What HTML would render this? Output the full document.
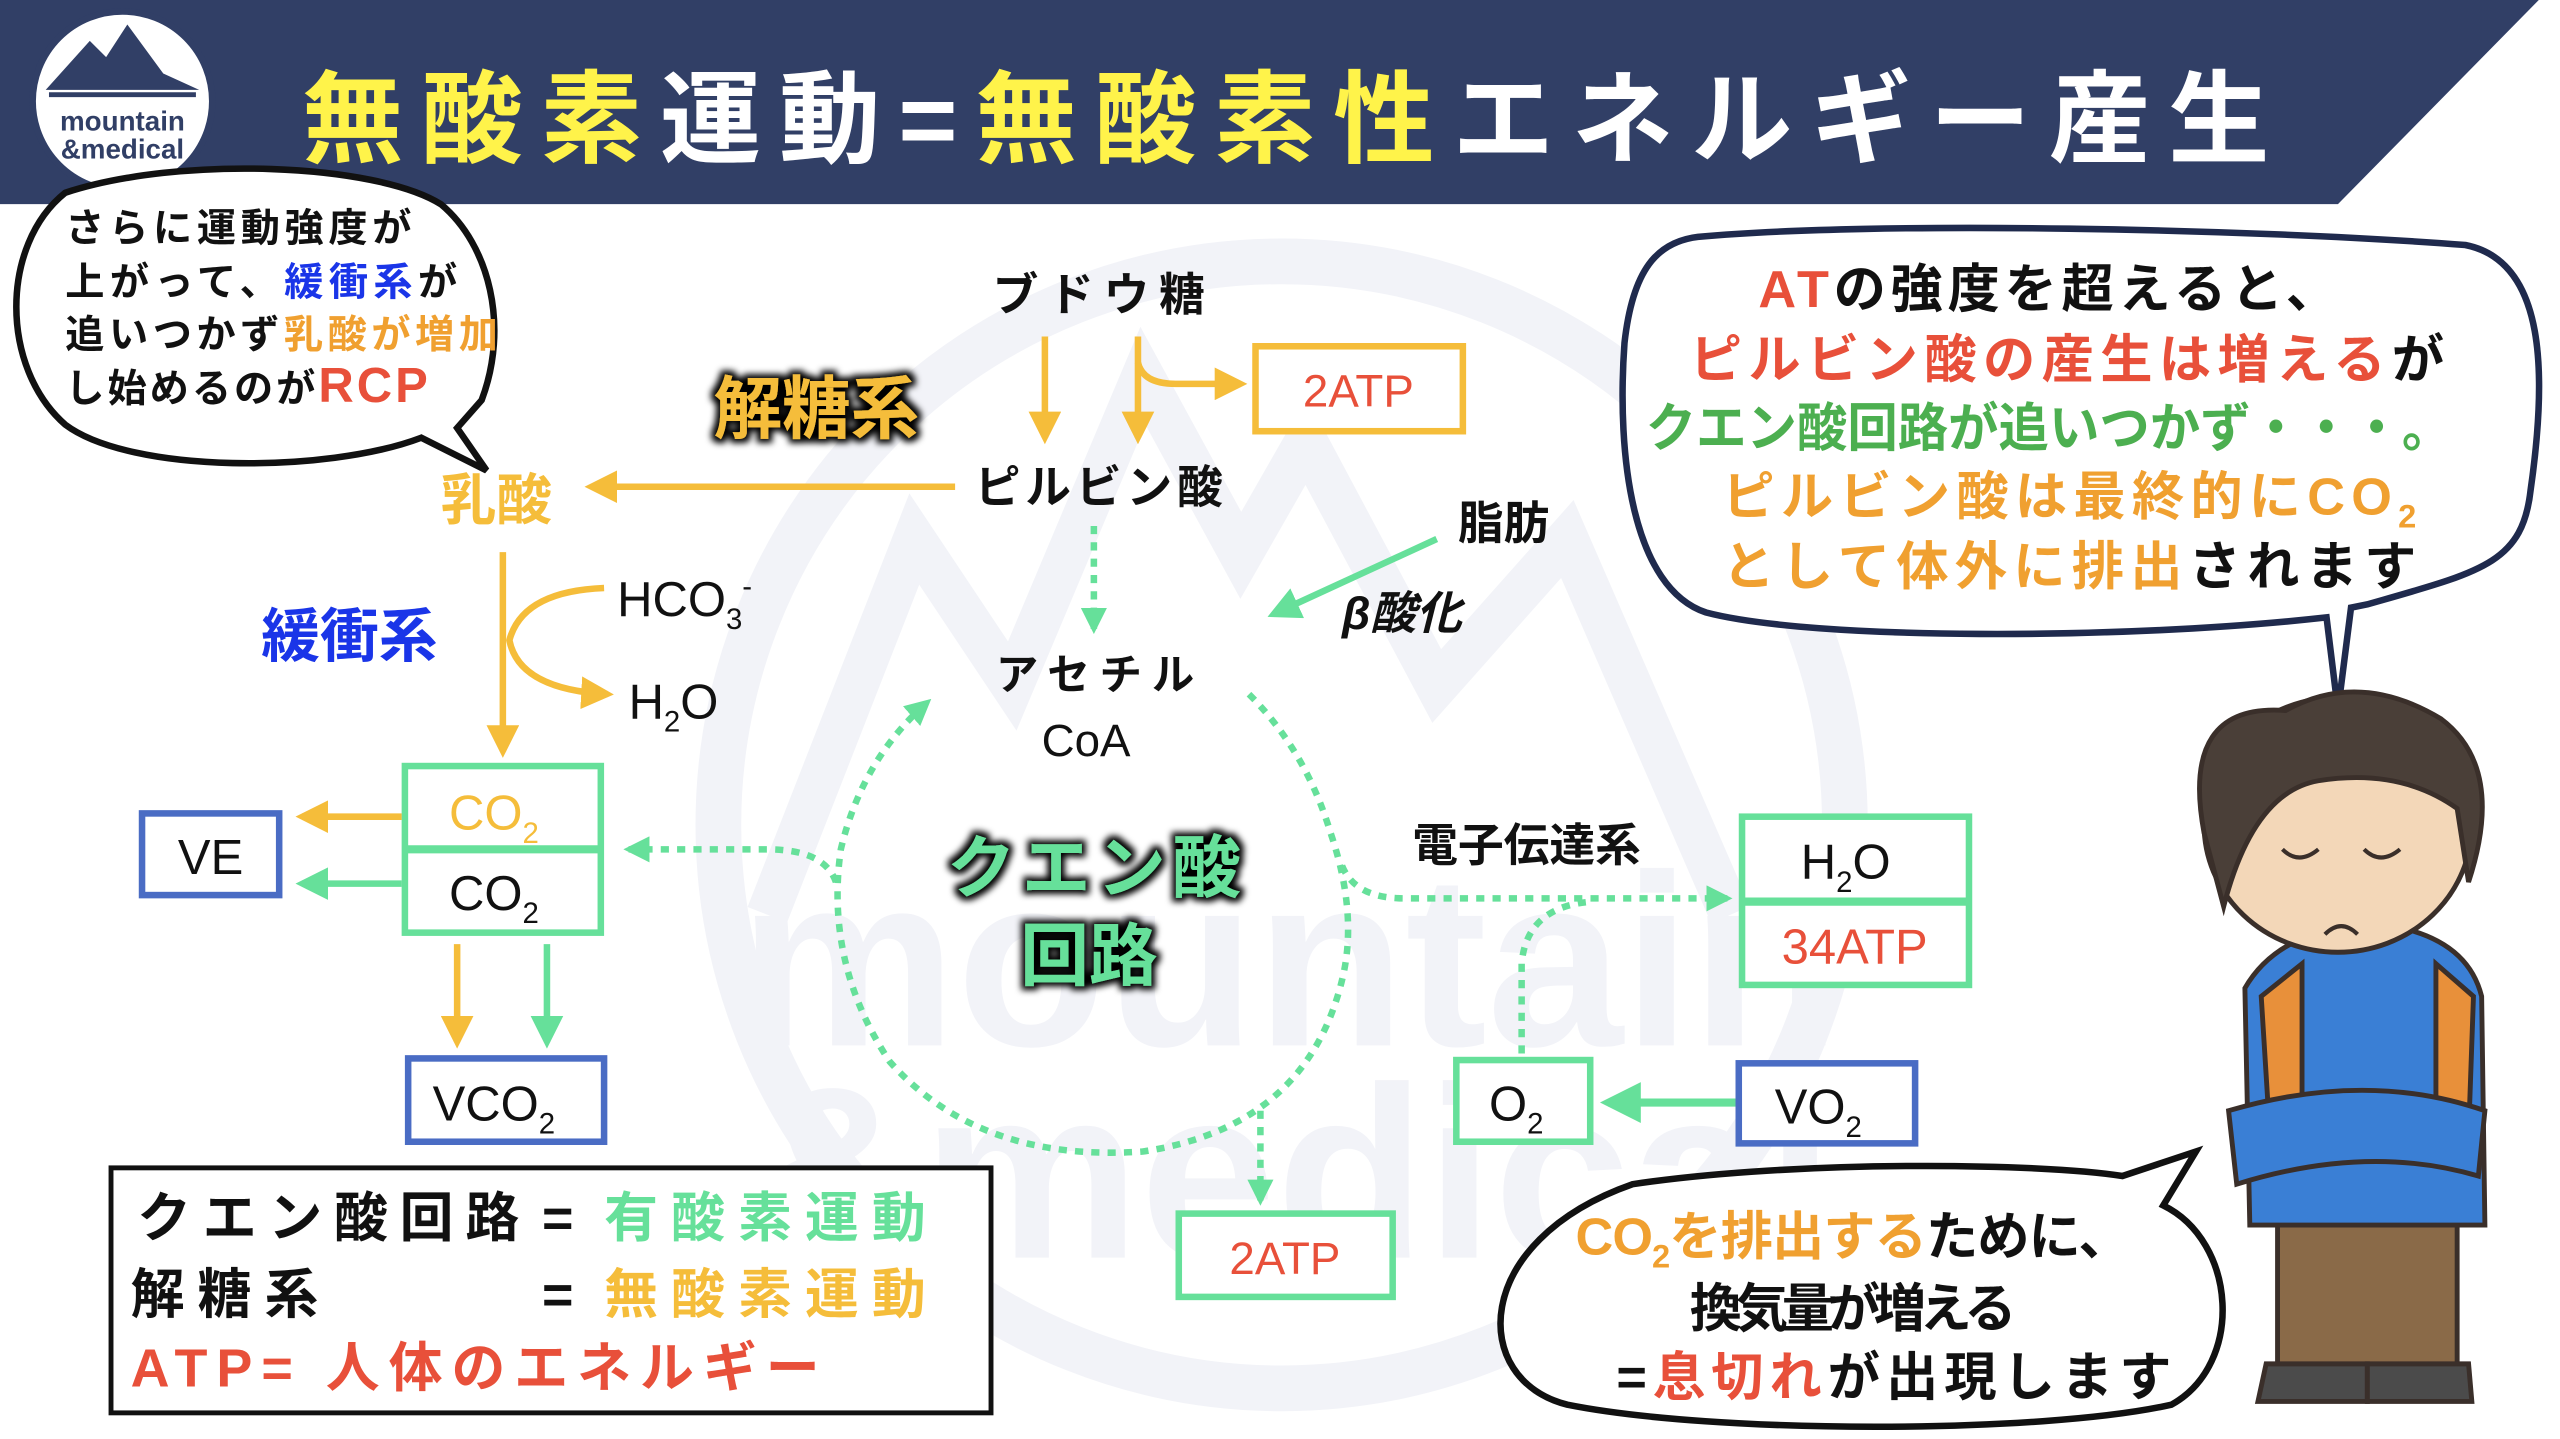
<!DOCTYPE html>
<html><head><meta charset="utf-8"><style>
html,body{margin:0;padding:0;background:#fff;}
svg{display:block;}
text{font-family:"Liberation Sans","Noto Sans CJK JP",sans-serif;}
</style></head><body>
<svg width="2560" height="1439" viewBox="0 0 1568 881" preserveAspectRatio="none" xmlns="http://www.w3.org/2000/svg">
<defs>
<marker id="mo" viewBox="0 0 10 10" refX="8" refY="5" markerWidth="5" markerHeight="5" orient="auto"><path d="M0,0L10,5L0,10z" fill="#f5bd3a"/></marker>
<marker id="mg" viewBox="0 0 10 10" refX="8" refY="5" markerWidth="5" markerHeight="5" orient="auto"><path d="M0,0L10,5L0,10z" fill="#66e09a"/></marker>
<marker id="mg2" viewBox="0 0 10 10" refX="8" refY="5" markerWidth="4" markerHeight="4" orient="auto"><path d="M0,0L10,5L0,10z" fill="#66e09a"/></marker>
<filter id="glow" x="-20%" y="-20%" width="140%" height="140%"><feMorphology operator="dilate" radius="2.5" in="SourceAlpha" result="d"/><feGaussianBlur in="d" stdDeviation="2" result="b"/><feFlood flood-color="#000"/><feComposite in2="b" operator="in" result="s"/><feMerge><feMergeNode in="s"/><feMergeNode in="SourceGraphic"/></feMerge></filter>
</defs>
<rect width="1568" height="881" fill="#fff"/>
<g>
<circle cx="785" cy="505" r="345" fill="none" stroke="#f2f3f8" stroke-width="28"/>
<path d="M470,560 L560,330 L620,420 L700,230 L760,340 L800,270 L880,420 L960,330 L1060,560" fill="none" stroke="#f2f3f8" stroke-width="26"/>
<text x="790" y="640" font-size="150" font-weight="bold" fill="#f2f3f8" text-anchor="middle">mountain</text>
<text x="790" y="770" font-size="150" font-weight="bold" fill="#f2f3f8" text-anchor="middle">&amp;medical</text>
</g>
<polygon points="0,0 1555,0 1432,125 0,125" fill="#313f66"/>
<circle cx="75" cy="62" r="55" fill="#fff" stroke="#313f66" stroke-width="4"/>
<path d="M28,55 L55,25 L65,35 L78,15 L100,45 L122,55 Z" fill="#313f66"/>
<path d="M30,58 L120,58" stroke="#313f66" stroke-width="3"/>
<text x="75" y="80" font-size="17" font-weight="bold" fill="#313f66" text-anchor="middle">mountain</text>
<text x="75" y="97" font-size="17" font-weight="bold" fill="#313f66" text-anchor="middle">&amp;medical</text>
<text x="185" y="95" font-size="62" font-weight="bold" textLength="1205" lengthAdjust="spacing"><tspan fill="#fff34a">無酸素</tspan><tspan fill="#fff">運動</tspan><tspan fill="#fff">=</tspan><tspan fill="#fff34a">無酸素性</tspan><tspan fill="#fff">エネルギー産生</tspan></text>
<path d="M40,118 C110,95 230,100 270,125 C300,150 312,200 295,245 L280,262 L298,288 L258,268 C200,290 80,290 40,260 C0,225 0,150 40,118 Z" fill="#fff" stroke="#111" stroke-width="4"/>
<g font-size="24" font-weight="bold" fill="#111">
<text x="40" y="148" textLength="212" lengthAdjust="spacing">さらに運動強度が</text>
<text x="40" y="181" textLength="240" lengthAdjust="spacing">上がって、<tspan fill="#1a35e8">緩衝系</tspan>が</text>
<text x="40" y="213" textLength="265" lengthAdjust="spacing">追いつかず<tspan fill="#f0a030">乳酸が増加</tspan></text>
<text x="40" y="246" textLength="222" lengthAdjust="spacing">し始めるのが<tspan fill="#e8503a" font-size="30">RCP</tspan></text>
</g>
<text x="608" y="190" font-size="28" font-weight="bold" fill="#111" letter-spacing="6">ブドウ糖</text>
<line x1="640" y1="206" x2="640" y2="268" stroke="#f5bd3a" stroke-width="4" marker-end="url(#mo)"/>
<line x1="697" y1="206" x2="697" y2="268" stroke="#f5bd3a" stroke-width="4" marker-end="url(#mo)"/>
<path d="M697,222 Q700,235 720,235 L760,235" fill="none" stroke="#f5bd3a" stroke-width="4" marker-end="url(#mo)"/>
<rect x="769" y="212" width="127" height="52" fill="#fff" stroke="#f5bd3a" stroke-width="4"/>
<text x="832" y="249" font-size="28" fill="#e8503a" text-anchor="middle">2ATP</text>
<text x="437" y="265" font-size="42" font-weight="bold" fill="#f5bd3a" filter="url(#glow)">解糖系</text>
<text x="597" y="308" font-size="28" font-weight="bold" fill="#111" letter-spacing="3">ピルビン酸</text>
<line x1="585" y1="298" x2="362" y2="298" stroke="#f5bd3a" stroke-width="4" marker-end="url(#mo)"/>
<text x="270" y="318" font-size="34" font-weight="bold" fill="#f5bd3a">乳酸</text>
<line x1="308" y1="338" x2="308" y2="460" stroke="#f5bd3a" stroke-width="4" marker-end="url(#mo)"/>
<path d="M370,360 Q320,362 312,392 Q318,422 372,425" fill="none" stroke="#f5bd3a" stroke-width="4" marker-end="url(#mo)"/>
<text x="378" y="377" font-size="30" fill="#111">HCO<tspan font-size="18" dy="8">3</tspan><tspan font-size="18" dy="-20">-</tspan></text>
<text x="385" y="440" font-size="30" fill="#111">H<tspan font-size="18" dy="8">2</tspan><tspan dy="-8">O</tspan></text>
<text x="160" y="402" font-size="36" font-weight="bold" fill="#1a35e8">緩衝系</text>
<rect x="248" y="469" width="120" height="102" fill="#fff" stroke="#66e09a" stroke-width="4"/>
<line x1="248" y1="520" x2="368" y2="520" stroke="#66e09a" stroke-width="5"/>
<text x="275" y="508" font-size="30" fill="#f5bd3a">CO<tspan font-size="18" dy="8">2</tspan></text>
<text x="275" y="557" font-size="30" fill="#111">CO<tspan font-size="18" dy="8">2</tspan></text>
<line x1="246" y1="500" x2="185" y2="500" stroke="#f5bd3a" stroke-width="4" marker-end="url(#mo)"/>
<line x1="246" y1="541" x2="185" y2="541" stroke="#66e09a" stroke-width="4" marker-end="url(#mg)"/>
<rect x="87" y="498" width="84" height="50" fill="#fff" stroke="#4a6cc4" stroke-width="4"/>
<text x="129" y="535" font-size="30" fill="#111" text-anchor="middle">VE</text>
<line x1="280" y1="578" x2="280" y2="638" stroke="#f5bd3a" stroke-width="4" marker-end="url(#mo)"/>
<line x1="335" y1="578" x2="335" y2="638" stroke="#66e09a" stroke-width="4" marker-end="url(#mg)"/>
<rect x="250" y="648" width="120" height="51" fill="#fff" stroke="#4a6cc4" stroke-width="4"/>
<text x="265" y="686" font-size="30" fill="#111">VCO<tspan font-size="18" dy="8">2</tspan></text>
<rect x="68" y="715" width="539" height="150" fill="#fff" stroke="#111" stroke-width="3"/>
<g font-size="33" font-weight="bold">
<text x="84" y="757" fill="#111" textLength="234" lengthAdjust="spacing">クエン酸回路</text>
<text x="332" y="757" fill="#111">=</text>
<text x="370" y="757" fill="#66e09a" textLength="197" lengthAdjust="spacing">有酸素運動</text>
<text x="80" y="804" fill="#111" textLength="115" lengthAdjust="spacing">解糖系</text>
<text x="332" y="804" fill="#111">=</text>
<text x="370" y="804" fill="#f5bd3a" textLength="197" lengthAdjust="spacing">無酸素運動</text>
<text x="80" y="849" fill="#e8503a" textLength="422" lengthAdjust="spacing">ATP= 人体のエネルギー</text>
</g>
<line x1="670" y1="322" x2="670" y2="385" stroke="#66e09a" stroke-width="4" stroke-dasharray="5 5" marker-end="url(#mg2)"/>
<text x="893" y="330" font-size="28" font-weight="bold" fill="#111">脂肪</text>
<line x1="880" y1="330" x2="780" y2="376" stroke="#66e09a" stroke-width="4" marker-end="url(#mg)"/>
<text x="822" y="385" font-size="28" font-weight="bold" font-style="italic" fill="#111">β酸化</text>
<text x="610" y="422" font-size="26" font-weight="bold" fill="#111" letter-spacing="6">アセチル</text>
<text x="638" y="463" font-size="28" fill="#111">CoA</text>
<path d="M765,425 Q800,460 815,510 Q832,560 822,600 Q800,690 700,705 Q600,712 545,650 Q505,590 515,520 Q528,465 568,430" fill="none" stroke="#66e09a" stroke-width="4" stroke-dasharray="5 5" marker-end="url(#mg2)"/>
<path d="M512,540 Q505,520 470,520 L385,520" fill="none" stroke="#66e09a" stroke-width="4" stroke-dasharray="5 5" marker-end="url(#mg2)"/>
<path d="M772,680 L772,735" fill="none" stroke="#66e09a" stroke-width="4" stroke-dasharray="5 5" marker-end="url(#mg2)"/>
<rect x="722" y="743" width="131" height="51" fill="#fff" stroke="#66e09a" stroke-width="4"/>
<text x="787" y="780" font-size="28" fill="#e8503a" text-anchor="middle">2ATP</text>
<text x="580" y="546" font-size="42" font-weight="bold" fill="#66e09a" filter="url(#glow)" letter-spacing="4">クエン酸</text>
<text x="625" y="600" font-size="42" font-weight="bold" fill="#66e09a" filter="url(#glow)">回路</text>
<text x="865" y="527" font-size="28" font-weight="bold" fill="#111">電子伝達系</text>
<path d="M822,530 Q830,550 860,550 L1058,550" fill="none" stroke="#66e09a" stroke-width="4" stroke-dasharray="5 5" marker-end="url(#mg2)"/>
<path d="M932,645 L932,590 Q935,555 975,552" fill="none" stroke="#66e09a" stroke-width="4" stroke-dasharray="5 5"/>
<rect x="1067" y="500" width="139" height="103" fill="#fff" stroke="#66e09a" stroke-width="4"/>
<line x1="1067" y1="552" x2="1206" y2="552" stroke="#66e09a" stroke-width="5"/>
<text x="1103" y="538" font-size="30" fill="#111">H<tspan font-size="18" dy="8">2</tspan><tspan dy="-8">O</tspan></text>
<text x="1136" y="590" font-size="30" fill="#e8503a" text-anchor="middle">34ATP</text>
<rect x="892" y="649" width="82" height="50" fill="#fff" stroke="#66e09a" stroke-width="4"/>
<text x="912" y="686" font-size="30" fill="#111">O<tspan font-size="18" dy="8">2</tspan></text>
<rect x="1065" y="651" width="108" height="49" fill="#fff" stroke="#4a6cc4" stroke-width="4"/>
<text x="1087" y="688" font-size="30" fill="#111">VO<tspan font-size="18" dy="8">2</tspan></text>
<line x1="1063" y1="675" x2="985" y2="675" stroke="#66e09a" stroke-width="5" marker-end="url(#mg)"/>
<path d="M1040,145 C1150,135 1380,140 1510,150 C1560,160 1560,230 1550,300 C1545,345 1520,350 1450,370 L1440,372 L1432,435 L1425,378 C1300,392 1110,392 1045,375 C1000,360 990,280 995,210 C1000,165 1015,148 1040,145 Z" fill="#fff" stroke="#1f2a4d" stroke-width="4"/>
<g font-size="32" font-weight="bold">
<text x="1077" y="188" textLength="355" lengthAdjust="spacing"><tspan fill="#e8503a">AT</tspan><tspan fill="#111">の強度を超えると、</tspan></text>
<text x="1035" y="231" textLength="462" lengthAdjust="spacing"><tspan fill="#e8503a">ピルビン酸の産生は増える</tspan><tspan fill="#111">が</tspan></text>
<text x="1008" y="273" fill="#4caf50" textLength="494" lengthAdjust="spacingAndGlyphs">クエン酸回路が追いつかず・・・。</text>
<text x="1055" y="315" fill="#f0a030" textLength="425" lengthAdjust="spacing">ピルビン酸は最終的にCO<tspan font-size="20" dy="8">2</tspan></text>
<text x="1055" y="358" textLength="425" lengthAdjust="spacing"><tspan fill="#f0a030">として体外に排出</tspan><tspan fill="#111">されます</tspan></text>
</g>
<g stroke="#3a2f2a" stroke-width="3">
<rect x="1395" y="745" width="110" height="95" fill="#8a6a48"/>
<path d="M1388,835 L1450,835 L1450,858 L1383,858 Z" fill="#4b4b4b"/>
<path d="M1450,835 L1512,835 L1514,858 L1450,858 Z" fill="#4b4b4b"/>
<path d="M1375,605 Q1395,570 1450,565 Q1510,570 1520,610 L1522,750 L1378,750 Z" fill="#3a7fd5"/>
<path d="M1385,610 L1410,590 L1410,700 L1390,690 Z" fill="#e8903a"/>
<path d="M1492,590 L1515,610 L1512,695 L1492,700 Z" fill="#e8903a"/>
<path d="M1365,680 Q1450,655 1522,680 L1518,720 Q1450,700 1370,725 Z" fill="#3a7fd5"/>
<ellipse cx="1432" cy="505" rx="82" ry="78" fill="#f3d7b8"/>
<path d="M1350,510 Q1335,430 1400,435 Q1445,410 1495,440 Q1535,470 1512,540 L1505,495 Q1470,470 1420,478 Q1380,485 1362,555 Z" fill="#4a3f38"/>
</g>
<path d="M1398,520 q10,10 22,0 M1448,520 q10,10 22,0 M1424,572 q10,-10 20,0" fill="none" stroke="#3a2f2a" stroke-width="2.5"/>
<path d="M1000,725 C1100,710 1250,712 1300,720 L1345,705 L1325,738 C1370,760 1375,835 1330,860 C1250,878 1050,878 960,860 C900,845 900,760 1000,725 Z" fill="#fff" stroke="#111" stroke-width="4"/>
<g font-size="32" font-weight="bold">
<text x="965" y="768" textLength="340" lengthAdjust="spacing"><tspan fill="#f0a030">CO<tspan font-size="20" dy="8">2</tspan><tspan dy="-8">を排出する</tspan></tspan><tspan fill="#111">ために、</tspan></text>
<text x="1035" y="812" fill="#111" textLength="200" lengthAdjust="spacing">換気量が増える</text>
<text x="990" y="854" textLength="340" lengthAdjust="spacing"><tspan fill="#111">=</tspan><tspan fill="#e8503a">息切れ</tspan><tspan fill="#111">が出現します</tspan></text>
</g>
</svg>
</body></html>
